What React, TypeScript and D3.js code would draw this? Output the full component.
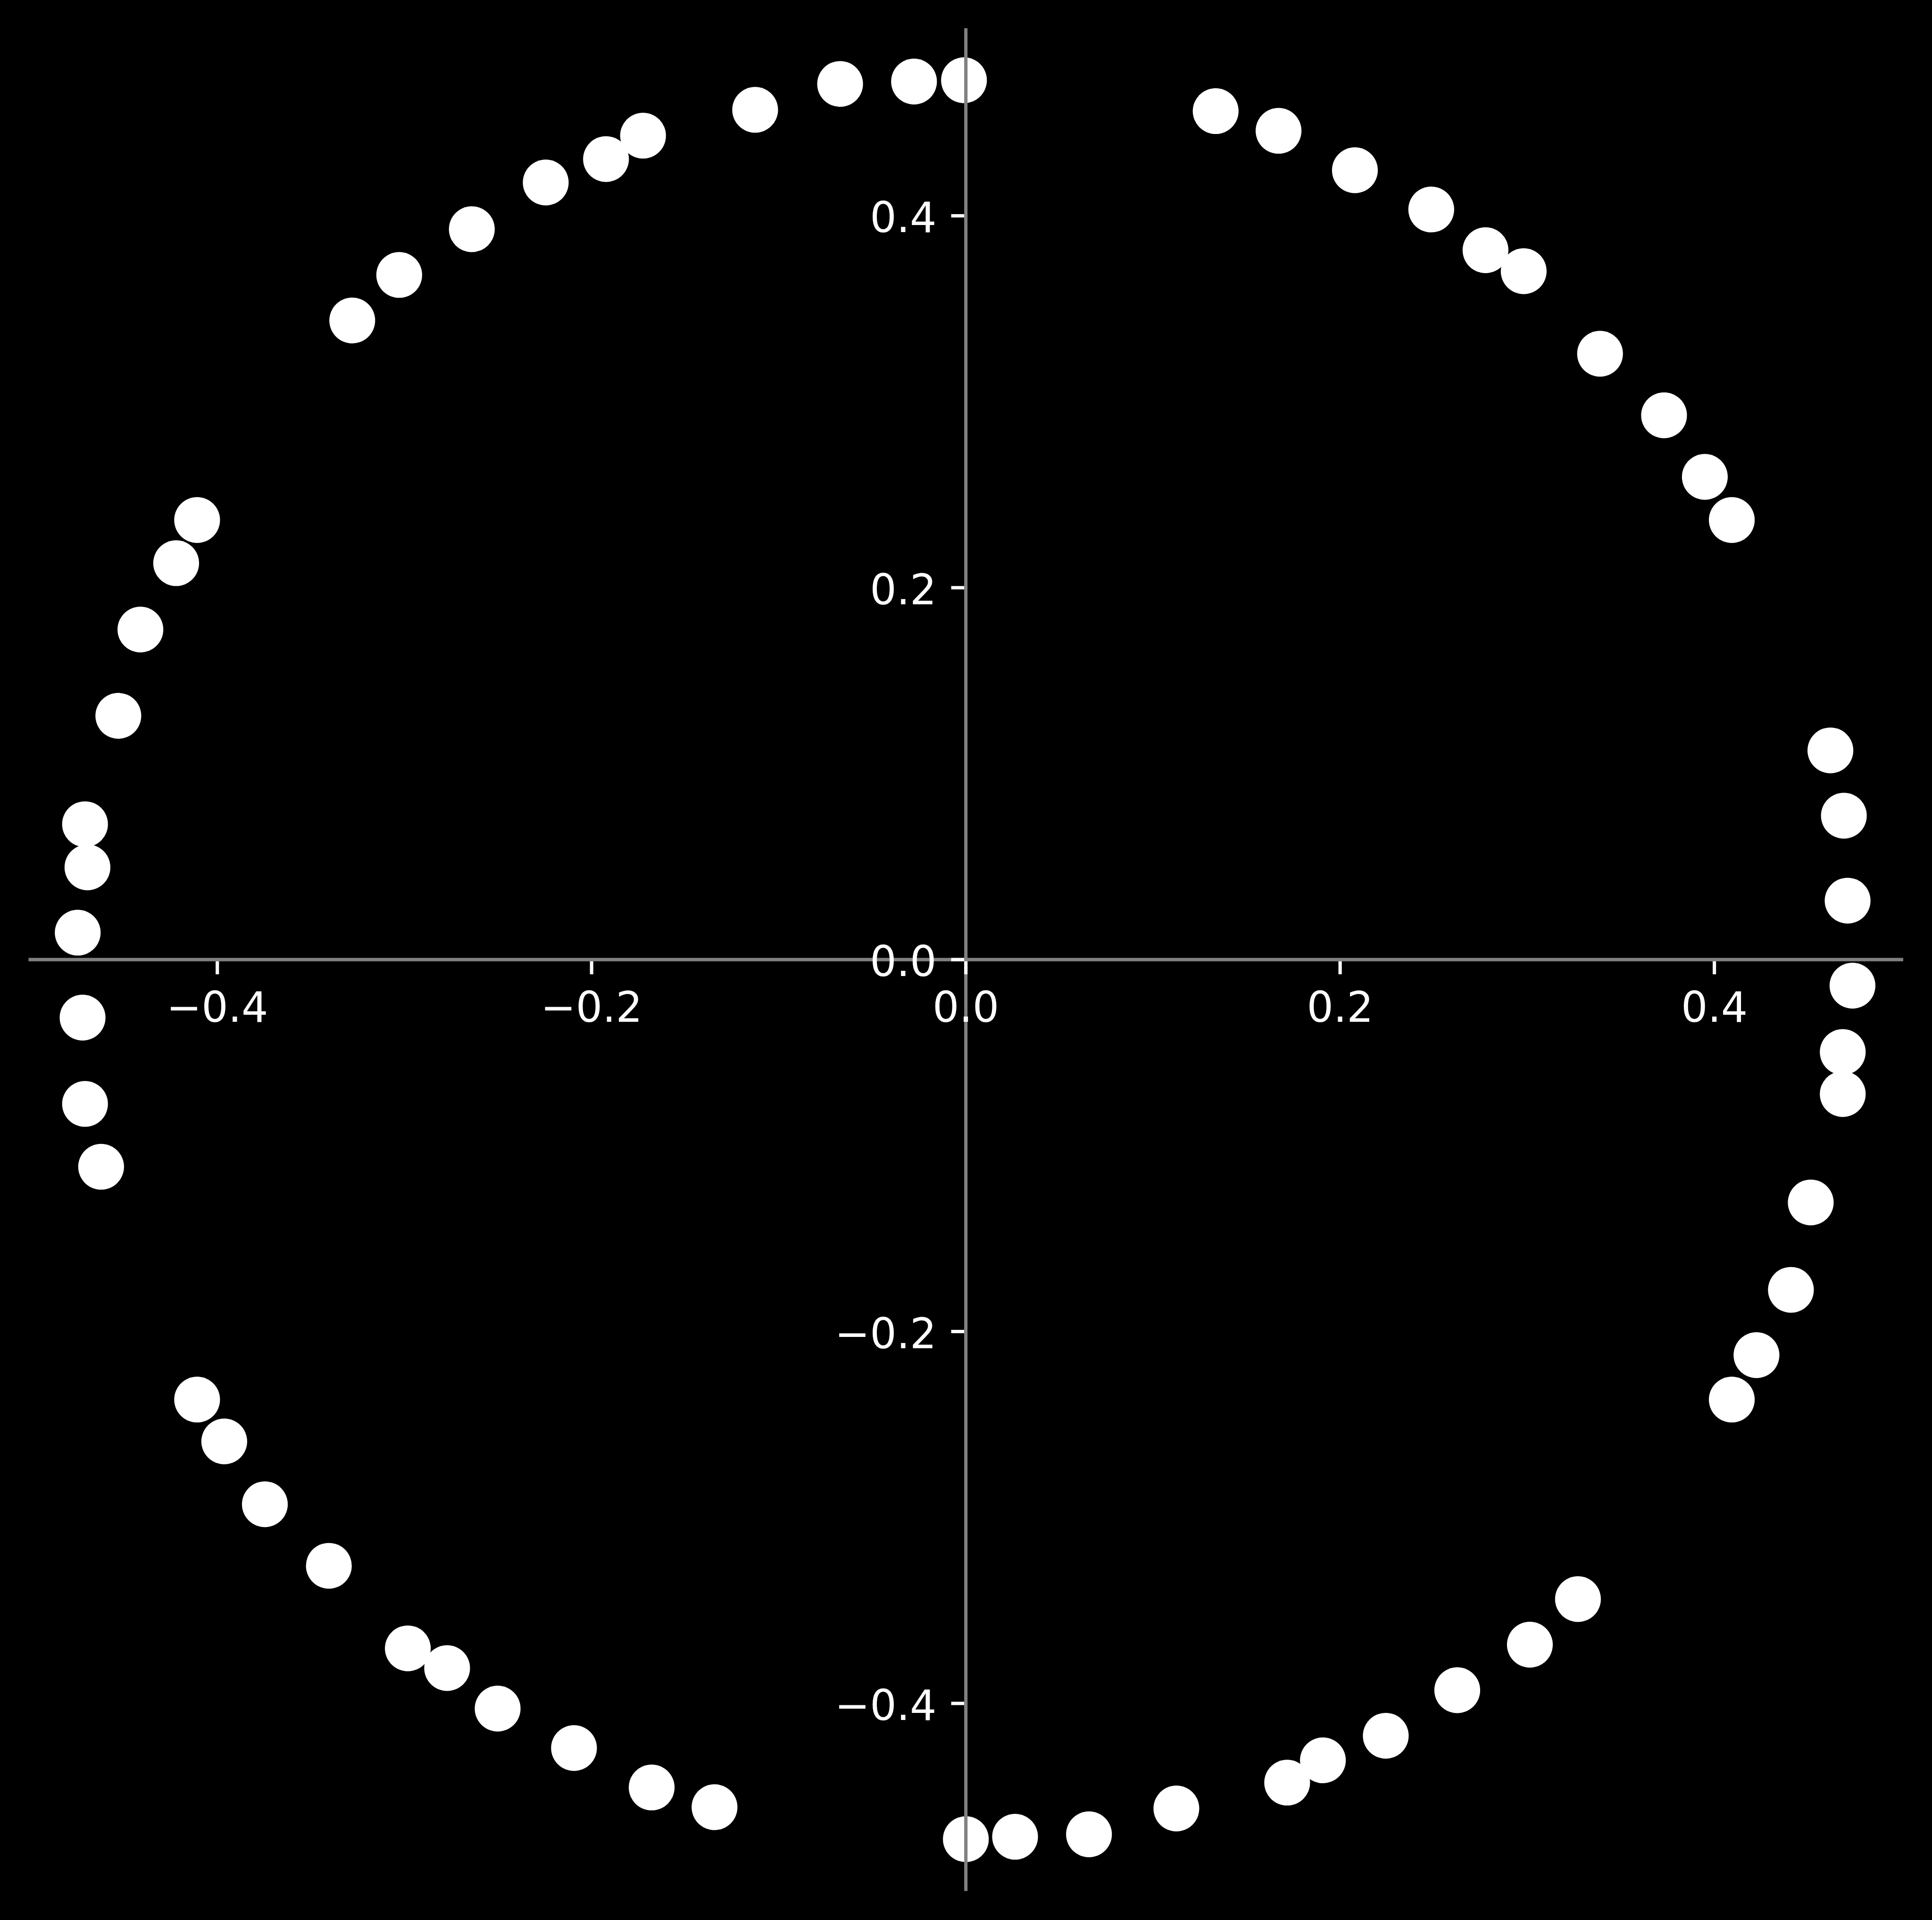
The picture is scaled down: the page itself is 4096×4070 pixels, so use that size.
import { useEffect, useRef } from 'react'
import * as d3 from 'd3'

// point coordinates
const xValues = [
  -0.001, -0.0277, -0.0672, -0.1126, -0.1725, -0.1923, -0.2245, -0.264, -0.3028, -0.3279,
  -0.4108, -0.422, -0.4411, -0.4529, -0.4707, -0.4694, -0.4746, -0.472, -0.4707, -0.4621,
  -0.4108, -0.3963, -0.3746, -0.3404, -0.2982, -0.2772, -0.2502, -0.2094, -0.1679, -0.1343,
  0.0, 0.0263, 0.0658, 0.1125, 0.1717, 0.1908, 0.2244, 0.2626, 0.3014, 0.3271,
  0.4093, 0.4225, 0.4409, 0.4515, 0.4686, 0.4686, 0.4738, 0.4712, 0.4692, 0.462,
  0.4093, 0.3949, 0.3731, 0.3389, 0.2981, 0.2777, 0.2487, 0.2079, 0.1671, 0.1335,
]
const yValues = [
  0.4729, 0.4722, 0.4709, 0.457, 0.4431, 0.4305, 0.4179, 0.3928, 0.3682, 0.3437,
  0.2364, 0.2132, 0.1775, 0.1311, 0.0728, 0.0496, 0.0145, -0.0312, -0.0776, -0.1114,
  -0.2366, -0.2591, -0.2929, -0.326, -0.3704, -0.381, -0.4028, -0.424, -0.4452, -0.4558,
  -0.473, -0.4717, -0.4704, -0.4565, -0.4426, -0.4306, -0.4174, -0.3929, -0.3684, -0.3439,
  -0.2366, -0.2127, -0.1776, -0.1306, -0.0723, -0.0497, -0.014, 0.0317, 0.0774, 0.1125,
  0.2364, 0.2596, 0.2927, 0.3258, 0.3702, 0.3815, 0.4034, 0.4245, 0.4457, 0.4563,
]
const xTicks = [-0.4, -0.2, 0.0, 0.2, 0.4]
const yTicks = [-0.4, -0.2, 0.0, 0.2, 0.4]

function App() {
  const svgRef = useRef<SVGSVGElement>(null)

  useEffect(() => {
    const k = 0.711
    const width = 4096
    const height = 4070
    const fontSize = 125 * k
    const tickLen = 43.75 * k
    const lineW = 10 * k
    const fmt = (d: number) => d3.format('.1f')(d).replace('-', '\u2212')

    const svg = d3.select(svgRef.current)
    svg.selectAll('*').remove()
    svg.attr('width', width).attr('height', height)

    svg.append('rect').attr('width', width).attr('height', height).attr('fill', '#000')

    const x = d3.scaleLinear().domain([-0.5009, 0.5009]).range([85 * k, 5675 * k])
    const y = d3.scaleLinear().domain([-0.5009, 0.5009]).range([5638 * k, 84 * k])

    const x0 = x(0)
    const y0 = y(0)

    // scatter points
    svg.append('g')
      .selectAll('circle')
      .data(xValues)
      .join('circle')
      .attr('cx', d => x(d))
      .attr('cy', (_, i) => y(yValues[i]))
      .attr('r', 68.3 * k)
      .attr('fill', '#ffffff')

    // spines through the origin
    svg.append('line')
      .attr('x1', x.range()[0]).attr('x2', x.range()[1])
      .attr('y1', y0).attr('y2', y0)
      .attr('stroke', '#808080').attr('stroke-width', lineW)
    svg.append('line')
      .attr('x1', x0).attr('x2', x0)
      .attr('y1', y.range()[1]).attr('y2', y.range()[0])
      .attr('stroke', '#808080').attr('stroke-width', lineW)

    // x ticks
    const gx = svg.append('g')
    gx.selectAll('line')
      .data(xTicks)
      .join('line')
      .attr('x1', d => x(d)).attr('x2', d => x(d))
      .attr('y1', y0 + lineW / 2).attr('y2', y0 + tickLen)
      .attr('stroke', '#fff').attr('stroke-width', lineW)
    gx.selectAll('text')
      .data(xTicks)
      .join('text')
      .attr('x', d => x(d))
      .attr('y', y0 + 131.5)
      .attr('text-anchor', 'middle')
      .attr('font-family', 'DejaVu Sans')
      .attr('font-size', fontSize)
      .attr('fill', '#fff')
      .text(d => fmt(d))

    // y ticks
    const gy = svg.append('g')
    gy.selectAll('line')
      .data(yTicks)
      .join('line')
      .attr('x1', x0 - lineW / 2).attr('x2', x0 - tickLen)
      .attr('y1', d => y(d)).attr('y2', d => y(d))
      .attr('stroke', '#fff').attr('stroke-width', lineW)
    gy.selectAll('text')
      .data(yTicks)
      .join('text')
      .attr('x', x0 - 62.2)
      .attr('y', d => y(d) + 35)
      .attr('text-anchor', 'end')
      .attr('font-family', 'DejaVu Sans')
      .attr('font-size', fontSize)
      .attr('fill', '#fff')
      .text(d => fmt(d))
  }, [])

  return (
    <div style={{ position: 'absolute', left: 0, top: 0, background: '#000' }}>
      <svg ref={svgRef} style={{ display: 'block' }}></svg>
    </div>
  )
}

export default App
